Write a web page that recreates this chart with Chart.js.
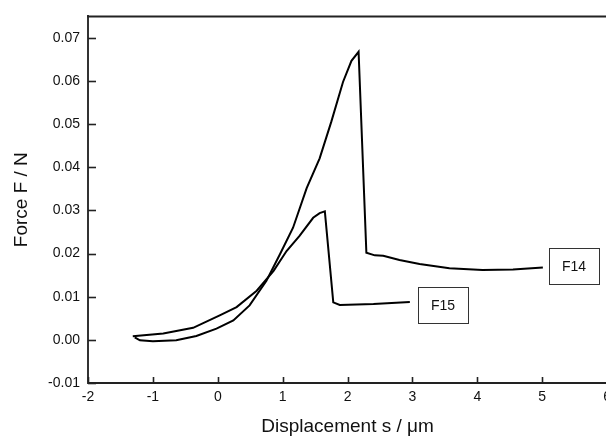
<!DOCTYPE html>
<html>
<head>
<meta charset="utf-8">
<script src="https://cdn.jsdelivr.net/npm/chart.js@4/dist/chart.umd.min.js"></script>
<style>
  html, body { margin: 0; padding: 0; background: #fff; overflow: hidden; }
  #wrap { width: 617px; height: 438px; }
</style>
</head>
<body>
<div id="wrap"><canvas id="forceChart" width="617" height="438"></canvas></div>
<script>
// Curve F14 (tall peak) - displacement in um, force in N
const f14X = [-1.28, -1.2, -1.0, -0.64, -0.33, -0.02, 0.24, 0.49, 0.75, 0.96, 1.16, 1.37, 1.57, 1.75, 1.93, 2.06, 2.17, 2.29, 2.42, 2.55, 2.8, 3.11, 3.57, 4.08, 4.55, 5.01];
const f14Y = [0.0006, -0.0001, -0.0003, -0.0001, 0.0009, 0.0026, 0.0045, 0.008, 0.0137, 0.0199, 0.026, 0.0352, 0.0421, 0.0506, 0.0598, 0.0647, 0.0668, 0.0202, 0.0196, 0.0195, 0.0185, 0.0176, 0.0166, 0.0162, 0.0163, 0.0168];

// Curve F15 (lower peak)
const f15X = [-1.31, -0.84, -0.38, 0.03, 0.29, 0.6, 0.86, 1.06, 1.26, 1.47, 1.57, 1.65, 1.78, 1.88, 2.4, 2.96];
const f15Y = [0.00085, 0.0015, 0.0028, 0.0057, 0.0076, 0.0114, 0.016, 0.0206, 0.0241, 0.0283, 0.0294, 0.0298, 0.0087, 0.0081, 0.0083, 0.0088];

// Axis ticks
const xTicks = [-2, -1, 0, 1, 2, 3, 4, 5, 6];
const yTicks = [-0.01, 0, 0.01, 0.02, 0.03, 0.04, 0.05, 0.06, 0.07];

// Curve name boxes: label, anchor x, anchor y (data units)
const boxLabels = ['F14', 'F15'];
const boxX = [5.49, 3.47];
const boxY = [0.0172, 0.0081];

const toPoints = (xs, ys) => xs.map((x, i) => ({ x: x, y: ys[i] }));

// Draws the top frame line, inward tick marks and the name boxes
const framePlugin = {
    id: 'frame',
    afterDraw(chart) {
        const ctx = chart.ctx;
        const area = chart.chartArea;
        const xs = chart.scales.x;
        const ys = chart.scales.y;
        ctx.save();
        ctx.strokeStyle = '#222';
        ctx.lineWidth = 2;
        ctx.beginPath();
        ctx.moveTo(area.left - 1, area.top);
        ctx.lineTo(area.right + 1, area.top);
        ctx.stroke();

        ctx.lineWidth = 1.6;
        xTicks.forEach(v => {
            const px = Math.round(xs.getPixelForValue(v)) + 0.5;
            ctx.beginPath();
            ctx.moveTo(px, area.bottom);
            ctx.lineTo(px, area.bottom - 6);
            ctx.stroke();
        });
        yTicks.forEach(v => {
            const py = Math.round(ys.getPixelForValue(v)) + 0.5;
            ctx.beginPath();
            ctx.moveTo(area.left, py);
            ctx.lineTo(area.left + 8, py);
            ctx.stroke();
        });

        ctx.lineWidth = 1;
        ctx.strokeStyle = '#333';
        ctx.fillStyle = '#111';
        ctx.font = '14px "Liberation Sans", Arial, sans-serif';
        ctx.textAlign = 'center';
        ctx.textBaseline = 'middle';
        boxLabels.forEach((lab, i) => {
            const cx = xs.getPixelForValue(boxX[i]);
            const cy = ys.getPixelForValue(boxY[i]);
            ctx.strokeRect(Math.round(cx - 25) + 0.5, Math.round(cy - 18) + 0.5, 50, 36);
            ctx.fillText(lab, cx, cy + 1);
        });
        ctx.restore();
    }
};

const ctx = document.getElementById('forceChart').getContext('2d');
const forceChart = new Chart(ctx, {
    type: 'scatter',
    data: {
        datasets: [
            { label: 'F14', data: toPoints(f14X, f14Y), showLine: true, borderColor: '#000', borderWidth: 2, pointRadius: 0, tension: 0 },
            { label: 'F15', data: toPoints(f15X, f15Y), showLine: true, borderColor: '#000', borderWidth: 2, pointRadius: 0, tension: 0 }
        ]
    },
    options: {
        responsive: false,
        animation: false,
        layout: { padding: { top: 14, right: 5, left: 0, bottom: 0 } },
        plugins: { legend: { display: false }, tooltip: { enabled: false } },
        scales: {
            x: {
                type: 'linear',
                min: -2,
                max: 6,
                afterBuildTicks: s => { s.ticks = xTicks.map(v => ({ value: v })); },
                afterFit: s => { s.height = 55; },
                grid: { display: false, drawTicks: false },
                border: { display: true, color: '#222', width: 2 },
                ticks: { padding: 6, maxRotation: 0, color: '#111', font: { family: '"Liberation Sans", Arial, sans-serif', size: 14 } },
                title: { display: true, text: 'Displacement s / \u03bcm', color: '#111', padding: { top: 0, bottom: 0 }, font: { family: '"Liberation Sans", Arial, sans-serif', size: 19 } }
            },
            y: {
                type: 'linear',
                min: -0.01,
                max: 0.075,
                afterBuildTicks: s => { s.ticks = yTicks.map(v => ({ value: v })); },
                afterFit: s => { s.width = 88; },
                grid: { display: false, drawTicks: false },
                border: { display: true, color: '#333', width: 2 },
                ticks: { padding: 8, color: '#111', font: { family: '"Liberation Sans", Arial, sans-serif', size: 14 }, callback: v => v.toFixed(2) },
                title: { display: true, text: 'Force F / N', color: '#111', padding: { top: 10, bottom: 0 }, font: { family: '"Liberation Sans", Arial, sans-serif', size: 19 } }
            }
        }
    },
    plugins: [framePlugin]
});
</script>
</body>
</html>
